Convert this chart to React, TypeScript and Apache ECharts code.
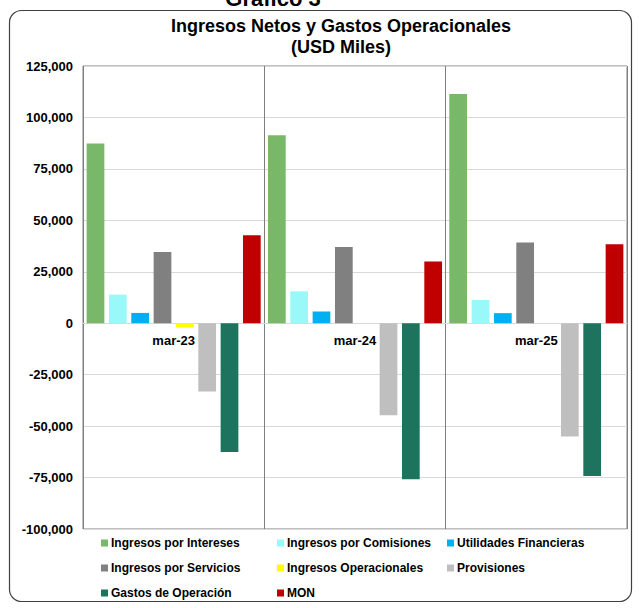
import React, { useEffect, useRef } from "react";
import * as echarts from "echarts";

const categories = ["mar-23", "mar-24", "mar-25"];
const seriesNames = [
  "Ingresos por Intereses",
  "Ingresos por Comisiones",
  "Utilidades Financieras",
  "Ingresos por Servicios",
  "Ingresos Operacionales",
  "Provisiones",
  "Gastos de Operación",
  "MON",
];
const intereses = [87300, 91300, 111400];
const comisiones = [13900, 15500, 11300];
const utilidades = [5000, 5700, 4900];
const servicios = [34600, 37000, 39200];
const operacionales = [-2000, 0, 0];
const provisiones = [-33200, -44700, -55000];
const gastos = [-62600, -75800, -74300];
const mon = [42700, 30000, 38400];
const seriesColors = ["#78b868", "#99f9f9", "#00b0f0", "#808080", "#ffff00", "#bfbfbf", "#1d735e", "#c00000"];
const yTicks = { min: -100000, max: 125000, interval: 25000 };

const FONT = "Liberation Sans";
const GRID = { left: 83, right: 12, top: 66, bottom: 79 };
const H = 608;

export default function App() {
  const ref = useRef<HTMLDivElement>(null);
  useEffect(() => {
    if (!ref.current) return;
    const chart = echarts.init(ref.current, null, { renderer: "svg" });
    const values = [intereses, comisiones, utilidades, servicios, operacionales, provisiones, gastos, mon];
    const plotH = H - GRID.top - GRID.bottom;
    const zeroOffset = -plotH * (0 - yTicks.min) / (yTicks.max - yTicks.min);
    const legendCol = (names: string[], left: number) => ({
      orient: "vertical",
      left,
      top: 536,
      padding: 0,
      itemGap: 11,
      itemWidth: 7,
      itemHeight: 7,
      icon: "rect",
      data: names,
      selectedMode: false,
      textStyle: { fontFamily: FONT, fontSize: 12, fontWeight: "bold", color: "#000", lineHeight: 14, padding: [0, 0, 0, -2] },
    });
    chart.setOption({
      animation: false,
      backgroundColor: "#fff",
      graphic: [
        {
          type: "rect",
          shape: { x: 9.5, y: 10.5, width: 622, height: 591, r: 12 },
          style: { fill: "none", stroke: "#404040", lineWidth: 1.2 },
          silent: true,
        },
        {
          type: "text",
          x: 273,
          y: -13,
          style: { text: "Gráfico 3", fontFamily: FONT, fontSize: 22, fontWeight: "bold", fill: "#000", textAlign: "center" },
        },
        {
          type: "text",
          x: 341,
          y: 17,
          style: { text: "Ingresos Netos y Gastos Operacionales", fontFamily: FONT, fontSize: 18, fontWeight: "bold", fill: "#000", textAlign: "center" },
        },
        {
          type: "text",
          x: 341,
          y: 38,
          style: { text: "(USD Miles)", fontFamily: FONT, fontSize: 18, fontWeight: "bold", fill: "#000", textAlign: "center" },
        },
      ],
      legend: [
        legendCol([seriesNames[0], seriesNames[3], seriesNames[6]], 101),
        legendCol([seriesNames[1], seriesNames[4], seriesNames[7]], 277),
        legendCol([seriesNames[2], seriesNames[5]], 447),
      ],
      grid: { ...GRID, show: true, borderColor: "#808080", borderWidth: 1 },
      xAxis: [
        {
          type: "category",
          data: categories,
          position: "bottom",
          axisLine: { show: false },
          axisTick: { show: false },
          axisLabel: { show: false },
          splitLine: { show: true, lineStyle: { color: "#7f7f7f", width: 1 } },
        },
        {
          type: "category",
          data: categories,
          position: "bottom",
          offset: zeroOffset,
          axisLine: { show: true, onZero: false, lineStyle: { color: "#d9d9d9" } },
          axisTick: { show: false },
          axisLabel: { fontFamily: FONT, fontSize: 13, fontWeight: "bold", color: "#000", margin: 11 },
          splitLine: { show: false },
        },
      ],
      yAxis: {
        type: "value",
        min: yTicks.min,
        max: yTicks.max,
        interval: yTicks.interval,
        axisLine: { show: false },
        axisTick: { show: false },
        axisLabel: {
          fontFamily: FONT,
          fontSize: 13,
          fontWeight: "bold",
          color: "#000",
          margin: 10,
          formatter: (v: number) => v.toLocaleString("en-US"),
        },
        splitLine: { lineStyle: { color: "#d9d9d9", width: 1 } },
      },
      series: seriesNames.map((name, i) => ({
        name,
        type: "bar",
        xAxisIndex: 0,
        data: values[i],
        itemStyle: { color: seriesColors[i] },
        barGap: "26%",
        barCategoryGap: "4%",
      })),
    });
    return () => chart.dispose();
  }, []);
  return <div ref={ref} style={{ position: "fixed", left: 0, top: 0, width: 639, height: 608 }} />;
}
